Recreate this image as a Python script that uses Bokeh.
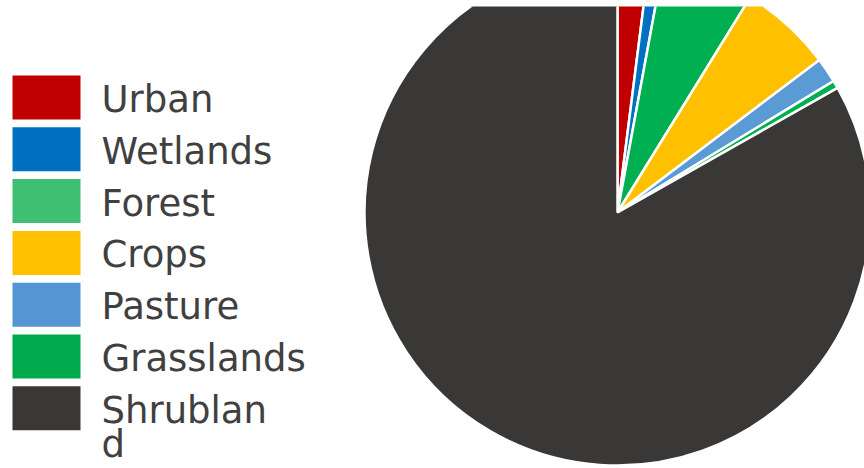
import numpy as np
from bokeh.plotting import figure
from bokeh.models import Range1d, ColumnDataSource
from bokeh.core.properties import value
from bokeh.embed import file_html
from bokeh.resources import INLINE

categories = ["Urban", "Wetlands", "Forest", "Crops", "Pasture", "Grasslands", "Shrubland"]
legend_labels = ["Urban", "Wetlands", "Forest", "Crops", "Pasture", "Grasslands", "Shrublan\nd"]
shares = [2.0, 0.9, 5.9, 5.9, 1.6, 0.5, 83.2]
slice_colors = ["#C00000", "#0070C0", "#00B050", "#FFC000", "#5B9BD5", "#00B050", "#3A3836"]
legend_colors = ["#C00000", "#0070C0", "#3EBF72", "#FFC000", "#5595D3", "#00AA4C", "#3A3836"]

W, H = 864, 468
TOP = 6
p = figure(width=W, height=H, output_backend="svg", toolbar_location=None,
           x_range=Range1d(0, W), y_range=Range1d(0, H - TOP),
           min_border_left=0, min_border_right=0, min_border_bottom=0, min_border_top=TOP)
p.axis.visible = False
p.grid.visible = False
p.outline_line_color = None
p.background_fill_color = "white"
p.border_fill_color = "white"

# pie
fr = np.array(shares) / sum(shares)
cum = np.concatenate([[0], np.cumsum(fr)])
start = np.pi / 2 - cum[:-1] * 2 * np.pi
end = np.pi / 2 - cum[1:] * 2 * np.pi
cx, cy, r = 617, H - 212, 253
src = ColumnDataSource(dict(start=start, end=end, color=slice_colors, cat=categories))
p.wedge(x=cx, y=cy, radius=r, start_angle="start", end_angle="end", direction="clock",
        fill_color="color", line_color="white", line_width=2.5, source=src)

# legend
n = len(categories)
idx = np.arange(n)
top0, step, box_h = 75, 51.8, 44
ytop = top0 + idx * step
ycen = ytop + box_h / 2
lsrc = ColumnDataSource(dict(y=H - ycen, color=legend_colors))
p.rect(x=46, y="y", width=68, height=box_h, fill_color="color", line_color=None, source=lsrc)

line_gap = 34
tx, ty = [], []
for i, lab in enumerate(legend_labels):
    for j, part in enumerate(lab.split("\n")):
        tx.append(part)
        ty.append(H - (ycen[i] + 2 + j * line_gap))
tsrc = ColumnDataSource(dict(y=ty, label=tx))
p.text(x=101, y="y", text="label", source=tsrc, text_font=value("DejaVu Sans"),
       text_font_size="37px", text_color="#404040", text_baseline="middle",
       text_align="left")

open("out.html", "w").write(file_html(p, INLINE))
